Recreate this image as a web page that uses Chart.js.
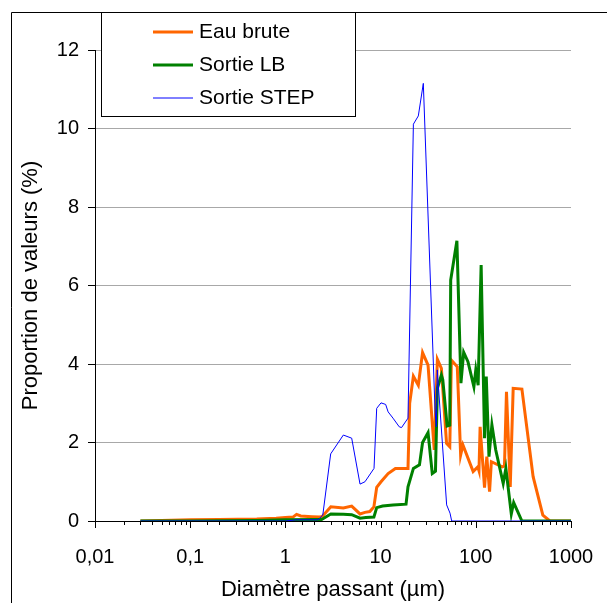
<!DOCTYPE html>
<html>
<head>
<meta charset="utf-8">
<script src="https://cdn.jsdelivr.net/npm/chart.js@4.4.0/dist/chart.umd.min.js"></script>
<style>
  html, body { margin: 0; padding: 0; background: #fff; }
  #wrap { width: 607px; height: 603px; }
</style>
</head>
<body>
<div id="wrap"><canvas id="chart" width="607" height="603"></canvas></div>
<script>
try {

// Diamètre (µm) / proportion (%) pour chaque échantillon
const eauBruteX = [0.03, 0.05, 0.1, 0.2, 0.5, 0.8, 1.0, 1.2, 1.31, 1.45, 1.9, 2.3, 2.45, 3.0, 4.06, 4.97, 6.08, 6.85, 7.7, 8.5, 9.1, 10.1, 12.0, 14.3, 18.9, 19.4, 20.2, 22.1, 24.9, 27.6, 31.5, 36.6, 39.5, 43.5, 49.3, 53.3, 55.4, 63.9, 69.3, 73.2, 93.8, 105, 108, 111, 123.5, 130.5, 139.5, 145.7, 190, 200, 210, 230, 247, 305, 400, 506, 600, 1000];
const eauBruteY = [0, 0.01, 0.03, 0.04, 0.05, 0.07, 0.09, 0.1, 0.17, 0.13, 0.11, 0.1, 0.12, 0.36, 0.33, 0.38, 0.18, 0.22, 0.24, 0.36, 0.86, 1.0, 1.21, 1.34, 1.34, 1.34, 3.0, 3.69, 3.46, 4.29, 3.97, 1.81, 4.12, 3.89, 1.98, 1.89, 4.1, 3.93, 1.68, 1.94, 1.26, 1.38, 1.28, 2.4, 0.85, 1.64, 0.75, 1.51, 1.38, 1.4, 3.29, 0.87, 3.38, 3.36, 1.13, 0.15, 0, 0];

const sortieLbX = [0.03, 0.1, 0.5, 1.0, 2.0, 2.4, 3.0, 4.06, 4.97, 6.08, 7.0, 8.5, 9.1, 10.5, 13.5, 18.5, 19.4, 22.1, 25.6, 27.6, 31.5, 34.9, 37.7, 39.5, 43.5, 45, 50, 53.3, 54.5, 63.3, 69.8, 74.6, 82.7, 95.5, 100, 105.8, 113.8, 123.5, 128.8, 137.5, 147.6, 162, 194, 207, 236, 250, 305, 1000];
const sortieLbY = [0, 0, 0.01, 0.03, 0.04, 0.04, 0.18, 0.17, 0.16, 0.07, 0.09, 0.1, 0.34, 0.38, 0.41, 0.43, 0.87, 1.34, 1.43, 2.0, 2.25, 1.21, 1.27, 3.38, 3.72, 3.6, 2.42, 2.44, 6.14, 7.14, 3.51, 4.3, 4.06, 3.42, 3.85, 3.46, 6.52, 2.11, 3.68, 1.64, 2.45, 1.81, 0.96, 1.34, 0.18, 0.47, 0, 0];

const sortieStepX = [0.03, 1.0, 1.3, 2.2, 2.47, 2.99, 4.06, 4.97, 6.08, 6.85, 8.53, 9.1, 10.1, 11.3, 12.0, 13.5, 15.7, 16.6, 19.4, 22.1, 24.9, 28.1, 37.3, 38.5, 39.4, 49.4, 53.6, 55.8, 1000];
const sortieStepY = [0, 0, 0.03, 0.03, 0.15, 1.71, 2.19, 2.11, 0.94, 1.0, 1.34, 2.87, 3.01, 2.97, 2.78, 2.62, 2.4, 2.38, 2.62, 10.11, 10.32, 11.15, 2.83, 2.4, 3.85, 0.41, 0.2, 0, 0];

const seriesNames = ['Eau brute', 'Sortie LB', 'Sortie STEP'];
const seriesColors = ['#FF6600', '#008000', '#0000FF'];
const seriesWidths = [3, 3, 1];

// graduations principales de l'axe des diamètres
const decades = [0.01, 0.1, 1, 10, 100, 1000];
const decadeLabels = ['0,01', '0,1', '1', '10', '100', '1000'];

function pairs(xs, ys) {
  return xs.map((x, i) => ({ x: x, y: ys[i] }));
}

function decadeIndex(v) {
  const l = Math.log10(v);
  return decades.findIndex(d => Math.abs(Math.log10(d) - l) < 1e-6);
}

const FONT = "'Liberation Sans', Arial, sans-serif";
Chart.defaults.font.family = FONT;
Chart.defaults.font.size = 20;
Chart.defaults.color = '#000';

// petites graduations sous l'axe x (longues aux puissances de 10)
const logTicks = {
  id: 'logTicks',
  afterDraw(chart) {
    const scale = chart.scales.x;
    const ctx = chart.ctx;
    const y0 = chart.chartArea.bottom;
    ctx.save();
    ctx.strokeStyle = '#000';
    ctx.lineWidth = 1;
    scale.ticks.forEach(t => {
      const px = Math.round(scale.getPixelForValue(t.value)) + 0.5;
      const len = decadeIndex(t.value) >= 0 ? 7 : 4;
      ctx.beginPath();
      ctx.moveTo(px, y0);
      ctx.lineTo(px, y0 + len);
      ctx.stroke();
    });
    ctx.restore();
  }
};

// cadre de la légende en haut à gauche
const legendBox = { left: 101, top: 12, right: 355, bottom: 116, lineX: 153, lineW: 40, textX: 199, firstY: 32, step: 33 };

const boxLegend = {
  id: 'boxLegend',
  afterDraw(chart) {
    const ctx = chart.ctx;
    const b = legendBox;
    ctx.save();
    ctx.fillStyle = '#fff';
    ctx.fillRect(b.left, b.top, b.right - b.left, b.bottom - b.top);
    ctx.strokeStyle = '#000';
    ctx.lineWidth = 1;
    ctx.strokeRect(b.left + 0.5, b.top + 0.5, b.right - b.left, b.bottom - b.top);
    chart.data.datasets.forEach((ds, i) => {
      const y = b.firstY + i * b.step;
      ctx.strokeStyle = ds.borderColor;
      ctx.lineWidth = ds.borderWidth;
      ctx.beginPath();
      ctx.moveTo(b.lineX, y);
      ctx.lineTo(b.lineX + b.lineW, y);
      ctx.stroke();
      ctx.fillStyle = '#000';
      ctx.font = '21px ' + FONT;
      ctx.textBaseline = 'middle';
      ctx.textAlign = 'left';
      ctx.fillText(ds.label, b.textX, y);
    });
    ctx.restore();
  }
};

// bordure extérieure du graphique
const frame = {
  id: 'frame',
  afterDraw(chart) {
    const ctx = chart.ctx;
    ctx.save();
    ctx.strokeStyle = '#000';
    ctx.lineWidth = 1;
    ctx.beginPath();
    ctx.moveTo(11.5, chart.height);
    ctx.lineTo(11.5, 12.5);
    ctx.lineTo(chart.width, 12.5);
    ctx.stroke();
    ctx.restore();
  }
};

const allX = [eauBruteX, sortieLbX, sortieStepX];
const allY = [eauBruteY, sortieLbY, sortieStepY];

const data = {
  datasets: seriesNames.map((name, i) => ({
    label: name,
    data: pairs(allX[i], allY[i]),
    borderColor: seriesColors[i],
    backgroundColor: seriesColors[i],
    borderWidth: seriesWidths[i],
    pointRadius: 0,
    tension: 0,
    fill: false,
    order: 2 - i
  }))
};

const options = {
  responsive: false,
  animation: false,
  layout: { padding: { top: 50, right: 36, left: 0, bottom: 0 } },
  plugins: {
    legend: { display: false },
    tooltip: { enabled: false }
  },
  scales: {
    x: {
      type: 'logarithmic',
      min: 0.01,
      max: 1000,
      grid: { display: false },
      border: { display: true, color: '#000', width: 1 },
      ticks: {
        autoSkip: false,
        maxRotation: 0,
        minRotation: 0,
        padding: 16,
        callback: v => {
          const k = decadeIndex(v);
          return k >= 0 ? decadeLabels[k] : '';
        }
      },
      title: { display: true, text: 'Diamètre passant (µm)', font: { size: 22 }, padding: { top: 0, bottom: 0 } },
      afterFit: s => {
        s.height = 82;
        s.paddingLeft = 0;
        s.paddingRight = 0;
      }
    },
    y: {
      min: 0,
      max: 12,
      ticks: { stepSize: 2, padding: 9 },
      grid: {
        color: c => (c.tick && c.tick.value === 0) ? 'rgba(0,0,0,0)' : '#a8a8a8',
        tickColor: '#000',
        tickLength: 7,
        lineWidth: 1
      },
      border: { color: '#000', width: 1 },
      title: { display: true, text: 'Proportion de valeurs (%)', font: { size: 22 }, padding: { top: 18, bottom: 0 } },
      afterFit: s => { s.width = 95; }
    }
  }
};

new Chart(document.getElementById('chart'), {
  type: 'line',
  data: data,
  options: options,
  plugins: [logTicks, boxLegend, frame]
});

} catch (err) {
  console.error(err);
}
</script>
</body>
</html>
